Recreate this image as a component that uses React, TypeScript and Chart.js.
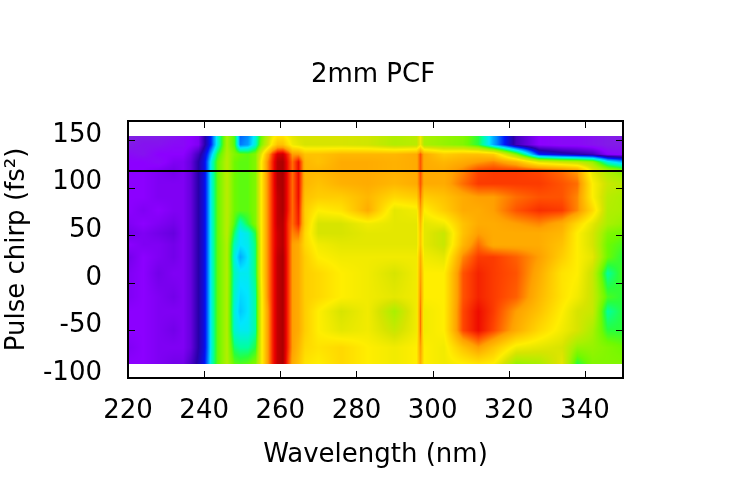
import { useEffect, useRef } from "react";
import { Chart, registerables } from "chart.js";

Chart.register(...registerables);

// wavelength grid of the scan (nm)
const wavelengths = [
  220, 224, 228, 232, 234.5, 236.5, 238.5, 240, 241, 242, 243.5, 246, 248, 249.5, 251.5,
  253.5, 255, 256.5, 258, 259.3, 260.7, 262.2, 263.2, 264.8, 266.5, 270, 276, 283, 290,
  295.8, 296.8, 297.8, 303, 308, 312, 316, 322, 328, 334, 338, 342, 346, 350,
];

// pulse chirp of each scan row, top to bottom (fs^2)
const chirps = [154, 145, 135, 127, 118, 104, 90, 76, 62, 52, 40, 27, 10, -15, -30, -50, -68, -85];

// relative signal (0..100), one row per chirp, one value per wavelength
const signal = [
  [4, 5, 5, 6, 7, 8, 9, 15, 19, 24, 36, 54, 46, 26, 28, 36, 48, 56, 64, 68, 68, 64, 62, 60, 60, 60, 60, 59, 55, 56, 64, 54, 52, 50, 44, 30, 14, 8, 7, 7, 6, 5, 5],
  [5, 6, 6, 7, 7, 8, 9, 15, 19, 24, 36, 54, 46, 27, 29, 37, 50, 58, 68, 74, 74, 68, 64, 62, 60, 60, 60, 59, 55, 56, 64, 54, 52, 50, 44, 30, 14, 8, 7, 7, 6, 5, 5],
  [7, 6, 8, 8, 8, 10, 14, 19, 24, 32, 44, 55, 50, 48, 47, 50, 62, 76, 88, 95, 96, 88, 80, 80, 74, 74, 76, 76, 76, 78, 86, 78, 72, 74, 74, 72, 50, 22, 18, 16, 14, 8, 7],
  [8, 8, 7, 9, 9, 11, 16, 20, 27, 37, 47, 56, 48, 47, 47, 50, 66, 80, 90, 98, 99, 90, 84, 92, 76, 74, 78, 78, 77, 78, 86, 78, 76, 78, 80, 82, 76, 62, 58, 56, 52, 36, 30],
  [8, 8, 9, 10, 9, 11, 16, 20, 27, 37, 47, 56, 48, 47, 47, 50, 66, 80, 90, 98, 99, 90, 84, 92, 76, 76, 78, 78, 77, 78, 86, 78, 78, 82, 87, 88, 88, 87, 84, 80, 62, 54, 50],
  [8, 8, 9, 9, 9, 11, 16, 20, 27, 37, 47, 56, 48, 47, 47, 50, 66, 80, 90, 98, 99, 90, 84, 92, 76, 74, 77, 78, 76, 78, 86, 78, 78, 84, 88, 88, 88, 88, 86, 84, 66, 58, 56],
  [8, 8, 9, 9, 9, 11, 16, 20, 27, 37, 47, 56, 48, 47, 47, 50, 66, 80, 90, 97, 99, 90, 84, 92, 74, 72, 72, 76, 70, 72, 84, 72, 74, 78, 80, 80, 84, 86, 86, 82, 66, 56, 54],
  [8, 9, 8, 9, 9, 11, 16, 20, 27, 37, 47, 56, 48, 47, 47, 50, 66, 80, 90, 97, 99, 90, 84, 91, 72, 66, 68, 78, 62, 64, 80, 66, 72, 78, 78, 80, 86, 89, 88, 82, 70, 55, 54],
  [9, 8, 9, 10, 9, 11, 16, 20, 27, 37, 47, 56, 46, 38, 44, 50, 66, 80, 90, 97, 98, 88, 84, 90, 72, 60, 60, 64, 62, 62, 76, 62, 64, 74, 78, 78, 80, 82, 78, 70, 62, 54, 52],
  [10, 9, 10, 11, 9, 11, 16, 20, 27, 37, 47, 56, 42, 34, 36, 44, 66, 80, 90, 96, 98, 88, 82, 84, 70, 60, 60, 62, 62, 62, 74, 62, 58, 74, 80, 78, 78, 78, 76, 66, 60, 50, 48],
  [8, 9, 9, 10, 9, 11, 16, 20, 27, 37, 47, 55, 38, 34, 35, 42, 66, 80, 90, 96, 98, 88, 80, 78, 70, 64, 62, 62, 62, 62, 74, 62, 58, 76, 84, 78, 78, 78, 74, 66, 60, 48, 46],
  [10, 8, 9, 10, 9, 11, 16, 20, 27, 37, 47, 55, 36, 30, 34, 42, 66, 80, 90, 97, 99, 88, 80, 78, 72, 66, 64, 64, 64, 64, 78, 64, 62, 82, 88, 88, 85, 80, 72, 66, 62, 48, 44],
  [9, 8, 10, 9, 9, 11, 16, 20, 27, 37, 47, 55, 38, 35, 35, 42, 66, 80, 90, 97, 99, 88, 80, 78, 72, 70, 66, 64, 60, 64, 80, 66, 66, 86, 90, 88, 86, 78, 68, 66, 58, 40, 46],
  [9, 8, 9, 10, 9, 11, 16, 20, 27, 37, 47, 55, 37, 33, 34, 40, 64, 80, 90, 97, 99, 88, 80, 78, 72, 70, 66, 64, 62, 64, 82, 66, 66, 86, 90, 88, 85, 76, 68, 64, 58, 46, 44],
  [8, 8, 9, 9, 9, 11, 16, 20, 27, 37, 47, 55, 36, 32, 34, 40, 64, 78, 90, 97, 99, 88, 80, 78, 72, 66, 60, 64, 54, 64, 84, 64, 66, 87, 92, 88, 80, 74, 66, 60, 58, 40, 44],
  [8, 8, 9, 10, 9, 11, 16, 20, 27, 37, 47, 55, 37, 35, 35, 40, 64, 78, 90, 97, 99, 88, 80, 78, 72, 66, 62, 64, 58, 64, 84, 64, 66, 87, 92, 87, 78, 70, 64, 60, 54, 44, 44],
  [9, 8, 9, 9, 9, 11, 16, 20, 27, 37, 47, 55, 42, 40, 40, 44, 64, 78, 90, 97, 99, 88, 80, 76, 70, 68, 70, 66, 64, 66, 80, 66, 64, 74, 80, 74, 64, 62, 60, 52, 52, 50, 48],
  [8, 8, 9, 10, 10, 13, 17, 21, 28, 38, 47, 55, 47, 46, 47, 50, 64, 78, 90, 97, 99, 86, 78, 74, 68, 66, 70, 66, 64, 66, 78, 66, 64, 66, 68, 66, 52, 54, 62, 44, 50, 50, 50],
];

// horizontal marker line (fs^2)
const markerChirp = 117.5;

const chartTitle = "2mm PCF";

// colour map: [level, r, g, b]
const palette = [
  [0, 112, 72, 192],
  [8, 140, 0, 255],
  [16, 40, 0, 170],
  [22, 0, 20, 250],
  [28, 0, 140, 255],
  [34, 0, 230, 255],
  [40, 0, 255, 160],
  [44, 40, 255, 60],
  [48, 110, 250, 0],
  [54, 170, 240, 0],
  [60, 215, 228, 0],
  [66, 255, 238, 0],
  [73, 255, 200, 0],
  [80, 255, 160, 0],
  [87, 255, 70, 0],
  [93, 235, 0, 0],
  [100, 160, 0, 0],
];

function colourAt(v: number) {
  if (v <= palette[0][0]) return palette[0].slice(1);
  for (let i = 1; i < palette.length; i++) {
    const a = palette[i - 1];
    const b = palette[i];
    if (v <= b[0]) {
      const t = (v - a[0]) / (b[0] - a[0]);
      return [a[1] + (b[1] - a[1]) * t, a[2] + (b[2] - a[2]) * t, a[3] + (b[3] - a[3]) * t];
    }
  }
  return palette[palette.length - 1].slice(1);
}

const clamp = (v: number) => Math.min(1, Math.max(0, v));

function sampleAt(lam: number, c: number) {
  let i = 0;
  while (i < wavelengths.length - 2 && lam > wavelengths[i + 1]) i++;
  const tx = clamp((lam - wavelengths[i]) / (wavelengths[i + 1] - wavelengths[i]));
  let j = 0;
  while (j < chirps.length - 2 && c < chirps[j + 1]) j++;
  const ty = clamp((chirps[j] - c) / (chirps[j] - chirps[j + 1]));
  const upper = signal[j][i] * (1 - tx) + signal[j][i + 1] * tx;
  const lower = signal[j + 1][i] * (1 - tx) + signal[j + 1][i + 1] * tx;
  return upper * (1 - ty) + lower * ty;
}

const heatmapPlugin = {
  id: "heatmap",
  beforeDatasetsDraw(chart: any) {
    const { ctx } = chart;
    const x = chart.scales.x;
    const y = chart.scales.y;
    const left = Math.round(x.getPixelForValue(wavelengths[0]));
    const right = Math.round(x.getPixelForValue(wavelengths[wavelengths.length - 1]));
    const top = Math.round(y.getPixelForValue(chirps[0]));
    const bottom = Math.round(y.getPixelForValue(chirps[chirps.length - 1]));
    const w = right - left;
    const h = bottom - top;
    const off = document.createElement("canvas");
    off.width = w;
    off.height = h;
    const octx = off.getContext("2d")!;
    const img = octx.createImageData(w, h);
    for (let py = 0; py < h; py++) {
      const c = y.getValueForPixel(top + py + 0.5);
      for (let px = 0; px < w; px++) {
        const lam = x.getValueForPixel(left + px + 0.5);
        const rgb = colourAt(sampleAt(lam, c));
        const k = (py * w + px) * 4;
        img.data[k] = rgb[0];
        img.data[k + 1] = rgb[1];
        img.data[k + 2] = rgb[2];
        img.data[k + 3] = 255;
      }
    }
    octx.putImageData(img, 0, 0);
    ctx.save();
    ctx.imageSmoothingEnabled = false;
    ctx.drawImage(off, left, top, w, h);
    ctx.restore();
  },
};

// gnuplot-like frame with inward ticks on all four sides, plus the title
const framePlugin = {
  id: "frame",
  afterDatasetsDraw(chart: any) {
    const { ctx, chartArea } = chart;
    const { left, right, top, bottom } = chartArea;
    const x = chart.scales.x;
    const y = chart.scales.y;
    ctx.save();
    ctx.strokeStyle = "#000";
    ctx.lineWidth = 1;
    ctx.beginPath();
    x.ticks.forEach((t: any) => {
      const px = Math.round(x.getPixelForValue(t.value)) + 0.5;
      ctx.moveTo(px, bottom);
      ctx.lineTo(px, bottom - 7);
      ctx.moveTo(px, top);
      ctx.lineTo(px, top + 7);
    });
    y.ticks.forEach((t: any) => {
      const py = Math.round(y.getPixelForValue(t.value)) + 0.5;
      ctx.moveTo(left, py);
      ctx.lineTo(left + 7, py);
      ctx.moveTo(right, py);
      ctx.lineTo(right - 7, py);
    });
    ctx.stroke();
    ctx.lineWidth = 2;
    ctx.strokeRect(left, top, right - left, bottom - top);
    ctx.restore();
  },
  afterDraw(chart: any) {
    const { ctx } = chart;
    ctx.save();
    ctx.fillStyle = "#000";
    ctx.font = '26px "DejaVu Sans"';
    ctx.textAlign = "center";
    ctx.textBaseline = "middle";
    ctx.fillText(chartTitle, 373, 75.5);
    ctx.restore();
  },
};

const font = { family: '"DejaVu Sans", sans-serif', size: 26 };

const App = () => {
  const chartRef = useRef<HTMLCanvasElement>(null);

  useEffect(() => {
    const ctx = chartRef.current!.getContext("2d")!;

    const myChart = new Chart(ctx, {
      type: "scatter",
      data: {
        datasets: [
          {
            label: "marker",
            data: [
              { x: wavelengths[0], y: markerChirp },
              { x: wavelengths[wavelengths.length - 1], y: markerChirp },
            ],
            showLine: true,
            borderColor: "#000",
            borderWidth: 2,
            pointRadius: 0,
          },
        ],
      },
      options: {
        animation: false,
        responsive: true,
        maintainAspectRatio: false,
        layout: { padding: { left: 0, right: 127, top: 121, bottom: 0 } },
        plugins: {
          legend: { display: false },
          tooltip: { enabled: false },
          title: { display: false },
        },
        scales: {
          x: {
            type: "linear",
            min: 220,
            max: 350,
            grid: { display: false, drawTicks: false },
            border: { display: false },
            ticks: { stepSize: 20, includeBounds: false, font, color: "#000", padding: 18 },
            title: {
              display: true,
              text: "Wavelength (nm)",
              font,
              color: "#000",
              padding: { top: 0, bottom: 29 },
            },
            afterFit: (scale: any) => {
              scale.height = 122;
            },
          },
          y: {
            type: "linear",
            min: -100,
            max: 170,
            grid: { display: false, drawTicks: false },
            border: { display: false },
            ticks: {
              stepSize: 50,
              includeBounds: false,
              font,
              color: "#000",
              padding: 26,
              labelOffset: -5,
            },
            title: {
              display: true,
              text: "Pulse chirp (fs²)",
              font,
              color: "#000",
              padding: { top: 2, bottom: 0 },
            },
            afterFit: (scale: any) => {
              scale.width = 128;
            },
          },
        },
      },
      plugins: [heatmapPlugin, framePlugin],
    });

    return () => {
      myChart.destroy();
    };
  }, []);

  return (
    <div style={{ position: "fixed", left: 0, top: 0, width: 750, height: 500, background: "#fff" }}>
      <canvas ref={chartRef} />
    </div>
  );
};

export default App;
